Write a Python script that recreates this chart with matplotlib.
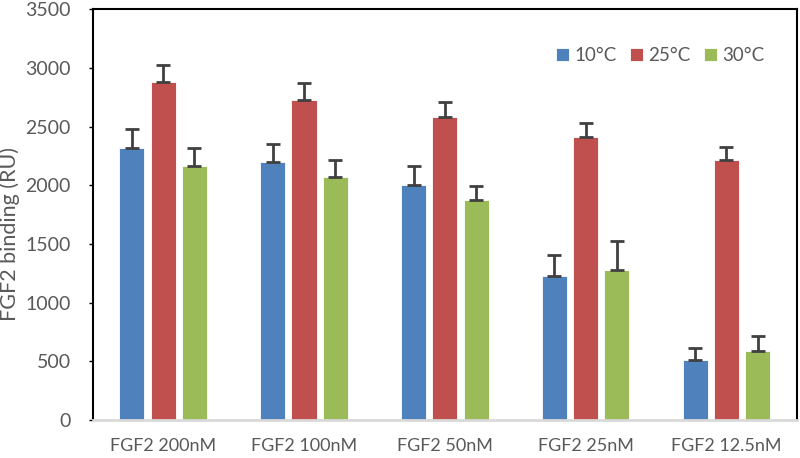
import numpy as np
import matplotlib.pyplot as plt

plt.rcParams['font.family'] = ['Lato', 'DejaVu Sans']

# Data
categories = ['FGF2 200nM', 'FGF2 100nM', 'FGF2 50nM', 'FGF2 25nM', 'FGF2 12.5nM']
series_names = ['10°C', '25°C', '30°C']
binding_10 = [2320, 2200, 2005, 1225, 515]
binding_25 = [2880, 2730, 2580, 2415, 2215]
binding_30 = [2165, 2070, 1870, 1275, 585]
err_10 = [160, 150, 160, 180, 100]
err_25 = [145, 145, 130, 115, 113]
err_30 = [150, 145, 125, 250, 128]

colors = ['#4f81bd', '#c0504d', '#9bbb59']
text_color = '#595959'

fig = plt.figure(figsize=(8, 4.58), dpi=100)
ax = fig.add_axes([0.116, 0.083, 0.880, 0.897])

x = np.arange(len(categories))
width = 0.178
step = 0.222
values = [binding_10, binding_25, binding_30]
errors = [err_10, err_25, err_30]
for i, (vals, errs) in enumerate(zip(values, errors)):
    pos = x + (i - 1) * step
    ax.bar(pos, vals, width, color=colors[i], label=series_names[i],
           edgecolor='white', linewidth=0.6, zorder=2)
    # only the upper half of the error bar is shown
    ax.errorbar(pos, vals, yerr=[np.zeros(len(errs)), errs], fmt='none',
                ecolor='#404040', elinewidth=2, capsize=5, capthick=2, zorder=3)

ax.set_xlim(-0.5, len(categories) - 0.5)
ax.set_ylim(0, 3500)
ax.set_yticks(np.arange(0, 3501, 500))
ax.set_xticks(x)
ax.set_xticklabels(categories, fontsize=13, color=text_color)
ax.tick_params(axis='x', length=0, pad=13)
ax.tick_params(axis='y', length=3, width=1, pad=13, labelsize=14,
               labelcolor=text_color, direction='out')
ax.set_ylabel('FGF2 binding (RU)', fontsize=15.5, color=text_color)
ax.yaxis.set_label_coords(-0.103, 0.453)

for side in ['left', 'top', 'right']:
    ax.spines[side].set_color('black')
    ax.spines[side].set_linewidth(1.5)
ax.spines['bottom'].set_color('#d9d9d9')
ax.spines['bottom'].set_linewidth(2)

ax.legend(loc='center', bbox_to_anchor=(0.806, 0.886), ncol=3, frameon=False,
          fontsize=13.5, labelcolor=text_color, handlelength=0.7, handleheight=0.7,
          handletextpad=0.3, columnspacing=0.7)

fig.savefig('out.png', dpi=100)
